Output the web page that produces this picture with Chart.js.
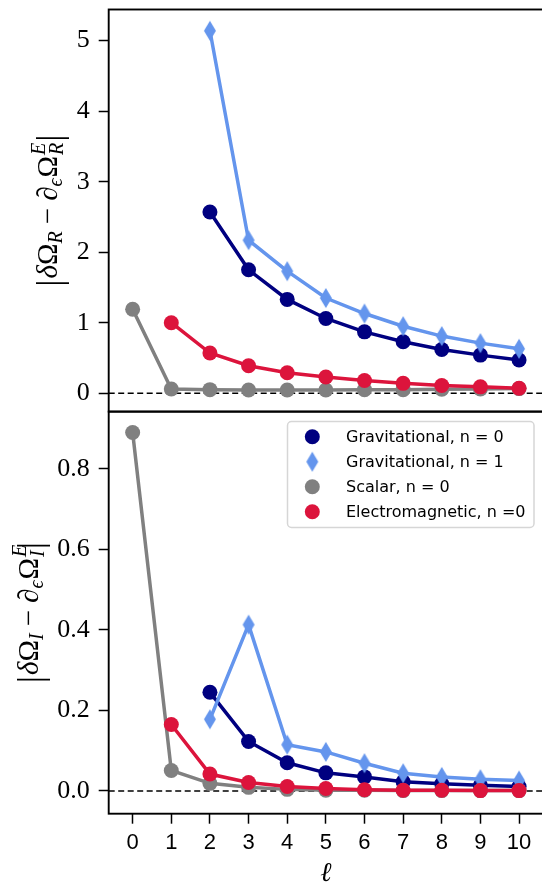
<!DOCTYPE html>
<html>
<head>
<meta charset="utf-8">
<script src="https://cdn.jsdelivr.net/npm/chart.js@4.4.1/dist/chart.umd.min.js"></script>
<style>
  html, body { margin: 0; padding: 0; background: #fff; overflow: hidden; }
  #wrap { position: relative; width: 560px; height: 884px; }
</style>
</head>
<body>
<div id="wrap"><canvas id="c" width="560" height="884"></canvas></div>
<script>
// multipole number
const ell = [0, 1, 2, 3, 4, 5, 6, 7, 8, 9, 10];

const seriesNames = ['Gravitational, n = 0', 'Gravitational, n = 1', 'Scalar, n = 0', 'Electromagnetic, n =0'];
const seriesColors = ['#000080', '#6495ED', '#808080', '#DC143C'];

// top panel: |dOmega_R - d_eps Omega_R^E|
const gravN0Re = [null, null, 2.57, 1.75, 1.33, 1.06, 0.87, 0.73, 0.62, 0.54, 0.47];
const gravN1Re = [null, null, 5.14, 2.17, 1.73, 1.35, 1.13, 0.95, 0.81, 0.71, 0.63];
const scalarRe = [1.19, 0.06, 0.05, 0.045, 0.045, 0.045, 0.05, 0.05, 0.055, 0.06, 0.065];
const emRe     = [null, 1.00, 0.57, 0.39, 0.29, 0.23, 0.18, 0.14, 0.11, 0.09, 0.07];

// bottom panel: |dOmega_I - d_eps Omega_I^E|
const gravN0Im = [null, null, 0.245, 0.123, 0.070, 0.045, 0.035, 0.023, 0.018, 0.014, 0.011];
const gravN1Im = [null, null, 0.178, 0.413, 0.115, 0.097, 0.069, 0.044, 0.035, 0.029, 0.026];
const scalarIm = [0.89, 0.051, 0.019, 0.009, 0.004, 0.002, 0.002, 0.001, 0.001, 0.001, 0.001];
const emIm     = [null, 0.165, 0.042, 0.021, 0.011, 0.006, 0.003, 0.002, 0.002, 0.001, 0.001];

const xTicks = [0, 1, 2, 3, 4, 5, 6, 7, 8, 9, 10];
const reTicks = [0, 1, 2, 3, 4, 5];
const imTicks = [0, 0.2, 0.4, 0.6, 0.8];

// thin diamond marker like matplotlib 'd'
function makeDiamond(color) {
  const cv = document.createElement('canvas');
  cv.width = 14; cv.height = 22;
  const g = cv.getContext('2d');
  g.fillStyle = color;
  g.beginPath();
  g.moveTo(7, 1); g.lineTo(13, 11); g.lineTo(7, 21); g.lineTo(1, 11);
  g.closePath();
  g.fill();
  return cv;
}
const diamond = makeDiamond(seriesColors[1]);
const markers = ['circle', diamond, 'circle', 'circle'];

function pts(arr) {
  return ell.map((l, i) => ({ x: l, y: arr[i] })).filter(p => p.y !== null);
}

const reSeries = [gravN0Re, gravN1Re, scalarRe, emRe];
const imSeries = [gravN0Im, gravN1Im, scalarIm, emIm];
const datasets = [];
[['yR', reSeries], ['yI', imSeries]].forEach(([axis, list]) => {
  list.forEach((arr, k) => {
    datasets.push({
      label: seriesNames[k],
      data: pts(arr),
      yAxisID: axis,
      borderColor: seriesColors[k],
      backgroundColor: seriesColors[k],
      borderWidth: 3.5,
      pointStyle: markers[k],
      pointRadius: 7.5,
      pointHoverRadius: 7.5,
      pointBorderWidth: 0,
      tension: 0,
      order: 3 - k // red on top, navy at the bottom
    });
  });
});

const serif = "'Liberation Serif', 'DejaVu Serif', serif";
const sans = "'DejaVu Sans', sans-serif";

// draws a math-like label from pieces, rotated 90 degrees
function drawMath(ctx, parts, bx, cy) {
  ctx.save();
  ctx.translate(bx, cy);
  ctx.rotate(-Math.PI / 2);
  ctx.fillStyle = '#000';
  ctx.textBaseline = 'alphabetic';
  ctx.textAlign = 'left';
  let total = 0;
  const widths = parts.map(p => {
    ctx.font = p.font;
    const w = ctx.measureText(p.t).width;
    total += p.stack ? 0 : w + (p.gap || 0);
    return w;
  });
  let x = -total / 2;
  parts.forEach((p, i) => {
    ctx.font = p.font;
    ctx.fillText(p.t, x, p.dy || 0);
    if (!p.stack) x += widths[i] + (p.gap || 0);
  });
  ctx.restore();
}

function titleParts(sub) {
  const big = '36px ' + serif;
  const main = '29px ' + serif;
  const it = 'italic 29px ' + serif;
  const sm = 'italic 20px ' + serif;
  return [
    { t: '|', font: big, dy: 4, gap: 1 },
    { t: 'δ', font: it },
    { t: 'Ω', font: main },
    { t: sub, font: sm, dy: 5, gap: 7 },
    { t: '−', font: main, gap: 7 },
    { t: '∂', font: it },
    { t: 'ϵ', font: sm, dy: 5, gap: 1 },
    { t: 'Ω', font: main, gap: 1 },
    { t: 'E', font: sm, dy: -12, stack: true },
    { t: sub, font: sm, dy: 6, gap: 1 },
    { t: '|', font: big, dy: 4 }
  ];
}

const frame = {
  id: 'frame',
  beforeDatasetsDraw(chart) {
    const ctx = chart.ctx;
    const a = chart.chartArea;
    ctx.save();
    ctx.strokeStyle = '#000';
    ctx.lineWidth = 1.5;
    ctx.setLineDash([6, 3.5]);
    ['yR', 'yI'].forEach(id => {
      const y = chart.scales[id].getPixelForValue(0);
      ctx.beginPath();
      ctx.moveTo(a.left, y);
      ctx.lineTo(a.right, y);
      ctx.stroke();
    });
    ctx.restore();
  },
  afterDraw(chart) {
    const ctx = chart.ctx;
    const a = chart.chartArea;
    const sR = chart.scales.yR, sI = chart.scales.yI;
    ctx.save();
    ctx.strokeStyle = '#000';
    ctx.lineWidth = 1.9;
    [sR, sI].forEach(s => ctx.strokeRect(a.left, s.top, a.right - a.left, s.bottom - s.top));

    drawMath(ctx, titleParts('R'), 56.7, (sR.top + sR.bottom) / 2);
    drawMath(ctx, titleParts('I'), 38, (sI.top + sI.bottom) / 2);

    // x title
    ctx.fillStyle = '#000';
    ctx.font = 'italic 27px ' + serif;
    ctx.textAlign = 'center';
    ctx.textBaseline = 'alphabetic';
    ctx.fillText('ℓ', chart.scales.x.getPixelForValue(5), 881);

    // legend
    const lx = 287.5, ly = 421.5, lw = 246.5, lh = 106;
    ctx.beginPath();
    ctx.roundRect(lx, ly, lw, lh, 4);
    ctx.fillStyle = 'rgba(255,255,255,0.8)';
    ctx.fill();
    ctx.strokeStyle = '#d6d6d6';
    ctx.lineWidth = 1.5;
    ctx.stroke();
    ctx.font = '16px ' + sans;
    ctx.textAlign = 'left';
    ctx.textBaseline = 'middle';
    seriesNames.forEach((name, k) => {
      const y = 436.7 + k * 25;
      ctx.fillStyle = seriesColors[k];
      if (markers[k] === 'circle') {
        ctx.beginPath();
        ctx.arc(312.3, y, 7.5, 0, Math.PI * 2);
        ctx.fill();
      } else {
        ctx.drawImage(markers[k], 312.3 - 7, y - 11);
      }
      ctx.fillStyle = '#000';
      ctx.fillText(name, 346, y + 1);
    });
    ctx.restore();
  }
};

function fixedTicks(list) {
  return s => { s.ticks = list.map(v => ({ value: v })); };
}

const yCommon = {
  type: 'linear',
  position: 'left',
  stack: 'panels',
  stackWeight: 1,
  border: { display: false },
  grid: { drawOnChartArea: false, tickLength: 10, tickWidth: 1.5, tickColor: '#000' },
  afterFit: s => { s.width = 108.7; s.paddingTop = 0; s.paddingBottom = 0; }
};

new Chart(document.getElementById('c'), {
  type: 'line',
  data: { datasets },
  options: {
    responsive: false,
    animation: false,
    devicePixelRatio: 1,
    layout: { padding: { top: 9.5, left: 0, right: 17, bottom: 0 }, autoPadding: false },
    plugins: { legend: { display: false }, tooltip: { enabled: false } },
    scales: {
      x: {
        type: 'linear',
        min: -0.62,
        max: 10.62,
        afterBuildTicks: fixedTicks(xTicks),
        border: { display: false },
        grid: { drawOnChartArea: false, tickLength: 10, tickWidth: 1.5, tickColor: '#000' },
        ticks: { font: { family: "'Liberation Sans', sans-serif", size: 22 }, color: '#000', padding: 6, maxRotation: 0 },
        afterFit: s => { s.height = 70.3; s.paddingLeft = 0; s.paddingRight = 0; }
      },
      // defined first so it is stacked at the bottom
      yI: Object.assign({}, yCommon, {
        min: -0.0564,
        max: 0.942,
        afterBuildTicks: fixedTicks(imTicks),
        ticks: { font: { family: serif, size: 26 }, color: '#000', padding: 9, callback: v => v.toFixed(1) }
      }),
      yR: Object.assign({}, yCommon, {
        min: -0.261,
        max: 5.442,
        afterBuildTicks: fixedTicks(reTicks),
        ticks: { font: { family: serif, size: 26 }, color: '#000', padding: 9, callback: v => String(v) }
      })
    }
  },
  plugins: [frame]
});
</script>
</body>
</html>
